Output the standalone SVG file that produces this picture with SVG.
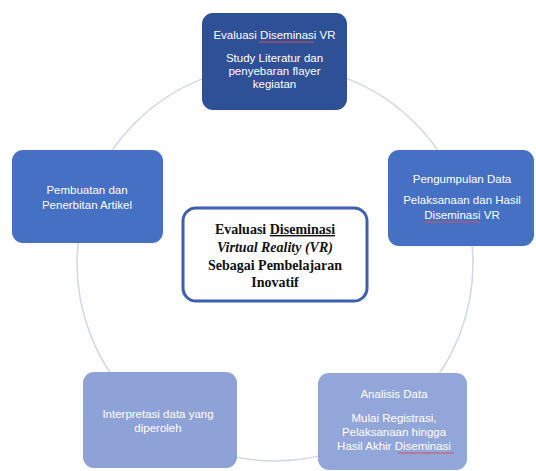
<svg xmlns="http://www.w3.org/2000/svg" width="536" height="471" viewBox="0 0 536 471">
<style>
.t{font-family:"Liberation Sans",Arial,sans-serif;font-size:11.5px;fill:#ffffff;text-anchor:middle}
.c{font-family:"Liberation Serif","Times New Roman",serif;font-size:14px;font-weight:bold;fill:#111111;text-anchor:middle}
.sp{stroke:#d9534f;stroke-width:1;fill:none}
</style>
<rect width="536" height="471" fill="#ffffff"/>
<g id="connectors">
<circle cx="275" cy="263" r="198" fill="none" stroke="#d3d7df" stroke-width="1.5"/>
</g>
<g id="top">
<rect x="202" y="13" width="145" height="97" rx="11" fill="#2e5096"/>
<text class="t" x="274.5" y="39">Evaluasi Diseminasi VR</text>
<line class="sp" x1="259" y1="42" x2="313" y2="42"/>
<text class="t" x="274.5" y="62">Study Literatur dan</text>
<text class="t" x="274.5" y="75">penyebaran flayer</text>
<text class="t" x="274.5" y="88">kegiatan</text>
</g>
<g id="right">
<rect x="388" y="150" width="146" height="96" rx="11" fill="#4570c4"/>
<text class="t" x="462" y="183">Pengumpulan Data</text>
<text class="t" x="462" y="204">Pelaksanaan dan Hasil</text>
<text class="t" x="462" y="219">Diseminasi VR</text>
<line class="sp" x1="424" y1="222" x2="480" y2="222"/>
</g>
<g id="left">
<rect x="12" y="150" width="151" height="93" rx="11" fill="#4570c4"/>
<text class="t" x="87" y="194">Pembuatan dan</text>
<text class="t" x="87" y="209">Penerbitan Artikel</text>
</g>
<g id="bottom-right">
<rect x="318" y="373" width="149" height="97" rx="11" fill="#93a6da"/>
<text class="t" x="394" y="398">Analisis Data</text>
<text class="t" x="394" y="422">Mulai Registrasi,</text>
<text class="t" x="394" y="436">Pelaksanaan hingga</text>
<text class="t" x="394" y="450">Hasil Akhir Diseminasi</text>
<line class="sp" x1="398" y1="453" x2="454" y2="453"/>
</g>
<g id="bottom-left">
<rect x="83" y="372" width="154" height="96" rx="11" fill="#8fa2d7"/>
<text class="t" x="158" y="418">Interpretasi data yang</text>
<text class="t" x="158" y="432">diperoleh</text>
</g>
<g id="center">
<rect x="183" y="208" width="184" height="93" rx="13" fill="#ffffff" stroke="#3e5eae" stroke-width="3"/>
<text class="c" x="275" y="234">Evaluasi <tspan text-decoration="underline">Diseminasi</tspan></text>
<text class="c" x="275" y="252" font-style="italic">Virtual Reality (VR)</text>
<text class="c" x="275" y="270">Sebagai Pembelajaran</text>
<text class="c" x="275" y="287">Inovatif</text>
</g>
</svg>
